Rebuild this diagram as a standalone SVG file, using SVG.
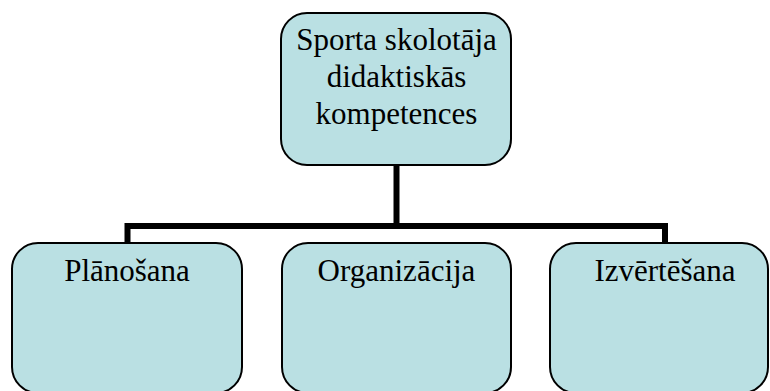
<svg xmlns="http://www.w3.org/2000/svg" width="770" height="391" viewBox="0 0 770 391">
<style>
.box{fill:#bae0e3;stroke:#000;stroke-width:2}
.t{font-family:"Liberation Serif","Times New Roman",serif;font-size:31px;fill:#000;text-anchor:middle}
.c{fill:none;stroke:#000;stroke-width:6;stroke-linejoin:miter}
</style>
<rect width="770" height="391" fill="#fff"/>
<g id="connectors">
<line class="c" x1="396.5" y1="165" x2="396.5" y2="226"/>
<polyline class="c" points="127.5,243 127.5,226 665,226 665,243"/>
</g>
<g id="root">
<rect class="box" x="281" y="13" width="230" height="152" rx="26" ry="26"/>
<text class="t" x="396.5" y="50">Sporta skolotāja</text>
<text class="t" x="396.5" y="87">didaktiskās</text>
<text class="t" x="396.5" y="124">kompetences</text>
</g>
<g id="planosana">
<rect class="box" x="12" y="243" width="230" height="150" rx="26" ry="26"/>
<text class="t" x="127" y="281">Plānošana</text>
</g>
<g id="organizacija">
<rect class="box" x="282" y="243" width="229" height="150" rx="26" ry="26"/>
<text class="t" x="396.5" y="281">Organizācija</text>
</g>
<g id="izvertesana">
<rect class="box" x="550" y="243" width="218" height="150" rx="26" ry="26"/>
<text class="t" x="665" y="281">Izvērtēšana</text>
</g>
</svg>
